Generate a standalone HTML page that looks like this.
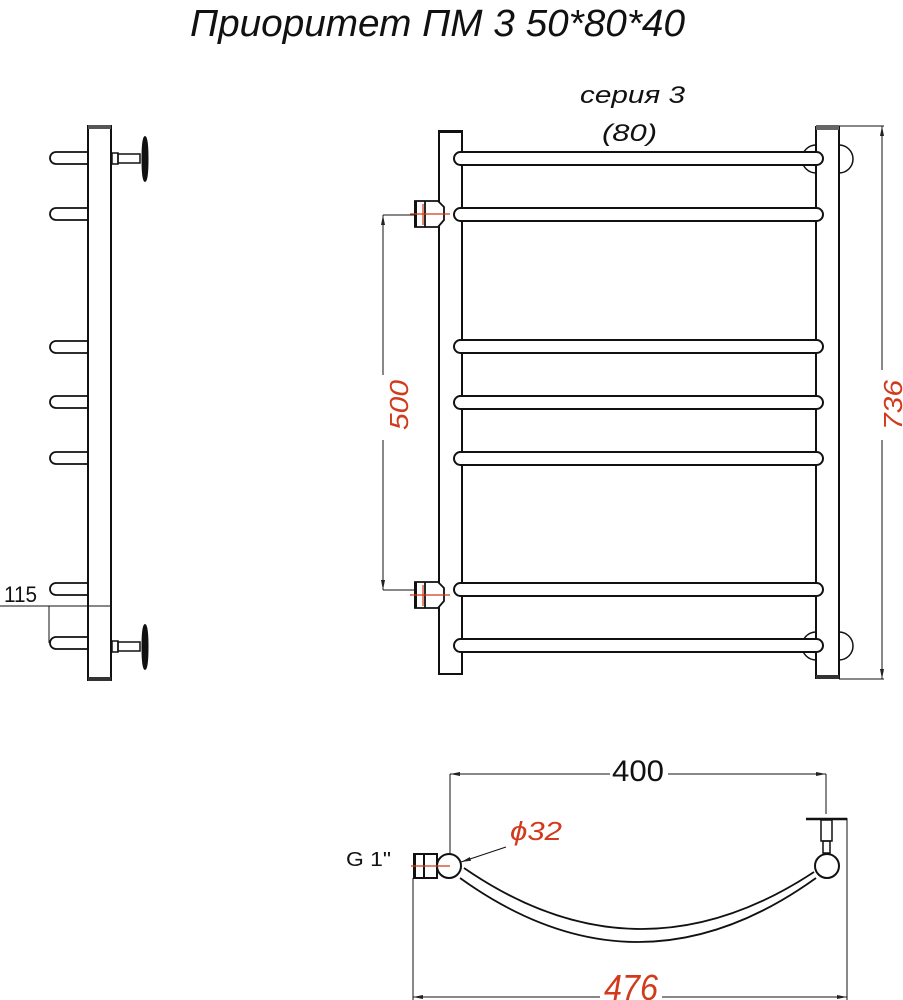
<!DOCTYPE html>
<html><head><meta charset="utf-8"><style>
html,body{margin:0;padding:0;background:#fff;}
svg{display:block;}
text{font-family:"Liberation Sans","DejaVu Sans",sans-serif;}
</style></head><body>
<svg width="903" height="1000" viewBox="0 0 903 1000" xmlns="http://www.w3.org/2000/svg">
<defs>
<marker id="ar" viewBox="0 0 10 6" refX="10" refY="3" markerWidth="10" markerHeight="6" orient="auto-start-reverse" markerUnits="userSpaceOnUse"><path d="M0,1 L10,3 L0,5 z" fill="#222"/></marker>
</defs>
<!-- Title -->
<text x="190" y="36" font-size="38" font-style="italic" textLength="495" lengthAdjust="spacingAndGlyphs" fill="#111">Приоритет ПМ 3 50*80*40</text>
<text x="580" y="103" font-size="24" font-style="italic" textLength="105" lengthAdjust="spacingAndGlyphs" fill="#111">серия 3</text>
<text x="602" y="141" font-size="24" font-style="italic" textLength="55" lengthAdjust="spacingAndGlyphs" fill="#111">(80)</text>

<g fill="none" stroke="#111" stroke-width="2">
<!-- SIDE VIEW -->
<rect x="88" y="126" width="23" height="554" fill="#fff"/>
<rect x="88" y="125" width="23" height="4" fill="#555" stroke="none"/>
<rect x="88" y="677" width="23" height="4" fill="#333" stroke="none"/>
<g stroke-width="1.8">
<path d="M88,152 H56 A6,6 0 0 0 56,164 H88"/>
<path d="M88,208 H56 A6,6 0 0 0 56,220 H88"/>
<path d="M88,341 H56 A6,6 0 0 0 56,353 H88"/>
<path d="M88,396 H56 A6,6 0 0 0 56,408 H88"/>
<path d="M88,452 H56 A6,6 0 0 0 56,464 H88"/>
<path d="M88,583 H56 A6,6 0 0 0 56,595 H88"/>
<path d="M88,637 H56 A6,6 0 0 0 56,649 H88"/>
</g>
<!-- valves side -->
<g stroke-width="1.5">
<rect x="112" y="153" width="6" height="11"/><rect x="118" y="154" width="22" height="9"/>
<rect x="112" y="641" width="6" height="11"/><rect x="118" y="642" width="22" height="9"/>
</g>
<ellipse cx="145" cy="159" rx="2.5" ry="22" fill="#111"/>
<ellipse cx="145" cy="647" rx="2.5" ry="22" fill="#111"/>
<!-- 115 dim -->
<g stroke-width="1">
<line x1="0" y1="606" x2="111" y2="606"/>
<line x1="49" y1="606" x2="49" y2="643"/>
</g>

<!-- FRONT VIEW -->
<rect x="439" y="131" width="23" height="543" fill="#fff"/>
<rect x="439" y="130" width="23" height="3" fill="#111" stroke="none"/>
<rect x="816" y="127" width="23" height="551" fill="#fff"/>
<rect x="816" y="125" width="23" height="5" fill="#666" stroke="none"/>
<rect x="816" y="675" width="23" height="4" fill="#333" stroke="none"/>
<!-- round valve backs -->
<path d="M816,145 A14,14 0 0 0 816,173" stroke-width="1.5"/>
<path d="M839,145 A14,14 0 0 1 839,173" stroke-width="1.5"/>
<path d="M816,632 A14,14 0 0 0 816,660" stroke-width="1.5"/>
<path d="M839,632 A14,14 0 0 1 839,660" stroke-width="1.5"/>
<!-- rungs -->
<g fill="#fff">
<rect x="454" y="152" width="369" height="13" rx="6.5"/>
<rect x="454" y="208" width="369" height="13" rx="6.5"/>
<rect x="454" y="340" width="369" height="13" rx="6.5"/>
<rect x="454" y="396" width="369" height="13" rx="6.5"/>
<rect x="454" y="452" width="369" height="13" rx="6.5"/>
<rect x="454" y="583" width="369" height="13" rx="6.5"/>
<rect x="454" y="639" width="369" height="13" rx="6.5"/>
</g>
<!-- left fittings -->
<g stroke-width="1.8">
<path d="M415,201 H438 L444,207 V220 L438,227 H415 Z" fill="#fff"/>
<line x1="425" y1="201" x2="425" y2="227"/>
<path d="M415,582 H438 L444,588 V601 L438,608 H415 Z" fill="#fff"/>
<line x1="425" y1="582" x2="425" y2="608"/>
</g>
<rect x="414" y="201" width="3" height="26" fill="#111" stroke="none"/>
<rect x="414" y="582" width="3" height="26" fill="#111" stroke="none"/>
<g stroke="#d23a1c" stroke-width="1.2">
<line x1="410" y1="214" x2="450" y2="214"/><line x1="423" y1="204" x2="423" y2="225"/>
<line x1="410" y1="595" x2="450" y2="595"/><line x1="423" y1="585" x2="423" y2="606"/>
</g>
<!-- 500 dim -->
<g stroke-width="1">
<line x1="383" y1="215" x2="415" y2="215"/>
<line x1="383" y1="590" x2="415" y2="590"/>
<line x1="383" y1="215" x2="383" y2="375" marker-start="url(#ar)"/>
<line x1="383" y1="440" x2="383" y2="590" marker-end="url(#ar)"/>
<!-- 736 dim -->
<line x1="839" y1="126" x2="884" y2="126"/>
<line x1="839" y1="679" x2="884" y2="679"/>
<line x1="882" y1="126" x2="882" y2="370" marker-start="url(#ar)"/>
<line x1="882" y1="440" x2="882" y2="679" marker-end="url(#ar)"/>
</g>

<!-- BOTTOM VIEW -->
<g stroke-width="1">
<line x1="450" y1="774" x2="610" y2="774" marker-start="url(#ar)"/>
<line x1="668" y1="774" x2="826" y2="774" marker-end="url(#ar)"/>
<line x1="450" y1="774" x2="450" y2="866"/>
<line x1="826" y1="774" x2="826" y2="814"/>
<line x1="413" y1="878" x2="413" y2="1000"/>
<line x1="847" y1="818" x2="847" y2="1000"/>
<line x1="413" y1="997" x2="600" y2="997" marker-start="url(#ar)"/>
<line x1="662" y1="997" x2="847" y2="997" marker-end="url(#ar)"/>
<line x1="461" y1="862" x2="506" y2="847" marker-start="url(#ar)"/>
</g>
<path d="M460,878 Q638,1006 816,878" stroke-width="1.8"/>
<path d="M464,868 Q638,988 814,872" stroke-width="1.8"/>
<circle cx="449" cy="866" r="12" fill="#fff"/>
<circle cx="827" cy="866" r="12" fill="#fff"/>
<rect x="414" y="854" width="23" height="24" fill="#fff"/>
<line x1="424" y1="854" x2="424" y2="878"/>
<rect x="413" y="854" width="3" height="24" fill="#111" stroke="none"/>
<line x1="411" y1="866" x2="450" y2="866" stroke="#d23a1c" stroke-width="1.2"/>
<line x1="806" y1="819" x2="847" y2="819" stroke-width="2.5"/>
<rect x="821" y="820" width="11" height="21" stroke-width="1.5"/>
<rect x="823" y="841" width="7" height="12" stroke-width="1.5"/>
</g>

<!-- labels -->
<text x="4" y="602" font-size="22" textLength="33" lengthAdjust="spacingAndGlyphs" fill="#111">115</text>
<text transform="translate(408,430) rotate(-90)" font-size="26" font-style="italic" textLength="50" lengthAdjust="spacingAndGlyphs" fill="#d23a1c">500</text>
<text transform="translate(902,430) rotate(-90)" font-size="26" font-style="italic" textLength="50" lengthAdjust="spacingAndGlyphs" fill="#d23a1c">736</text>
<text x="612" y="781" font-size="30" textLength="52" lengthAdjust="spacingAndGlyphs" fill="#111">400</text>
<text x="510" y="840" font-size="26" font-style="italic" textLength="52" lengthAdjust="spacingAndGlyphs" fill="#d23a1c">ϕ32</text>
<text x="346" y="866" font-size="20" textLength="45" lengthAdjust="spacingAndGlyphs" fill="#111">G 1"</text>
<text x="604" y="1000" font-size="36" font-style="italic" textLength="54" lengthAdjust="spacingAndGlyphs" fill="#d23a1c">476</text>
</svg>
</body></html>
